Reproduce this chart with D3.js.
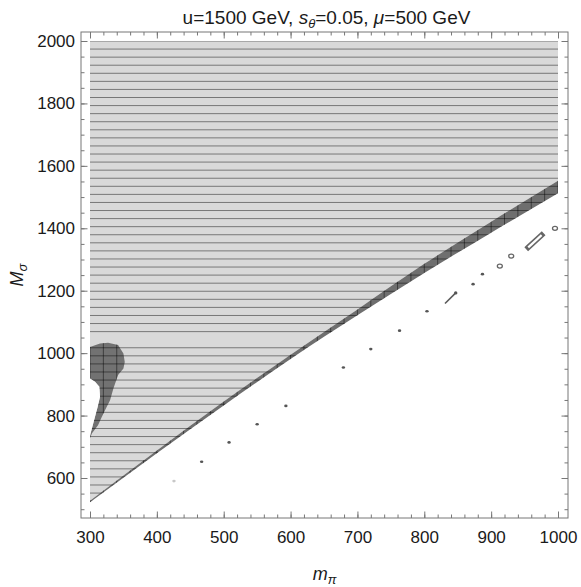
<!DOCTYPE html>
<html>
<head>
<meta charset="utf-8">
<script src="https://cdn.jsdelivr.net/npm/d3@7"></script>
<style>
  body { margin: 0; background: #fff; }
  svg { display: block; font-family: "Liberation Sans", Arial, sans-serif; }
</style>
</head>
<body>
<div id="chart"></div>
<script>
// boundary of the excluded region (upper edge of dark band / lower edge)
const bandM = [300, 400, 500, 600, 700, 800, 900, 1000];
const bandTop = [527, 688, 845, 995, 1140, 1286, 1421, 1552];
const bandBottom = [522, 679, 832, 981, 1121, 1257, 1386, 1512];

// dark blob near the left edge (outer edge, then the notch edge)
const blobM = [300, 315, 327, 342, 350, 352, 350, 342, 335, 330, 320, 312, 303, 300,
  301, 303.5, 307.5, 311.5, 315, 314, 307.5, 300];
const blobMs = [1020, 1031, 1033, 1026, 999, 972, 951, 930, 887, 849, 807, 769, 743, 727,
  743, 764, 796, 828, 860, 892, 908, 919];

// white notch left of the blob
const notchM = [300, 307.5, 314, 315, 311.5, 307.5, 303.5, 301, 300];
const notchMs = [919, 908, 892, 860, 828, 796, 764, 743, 735];

// small islands below the band
const islandM = [425.6, 467, 508, 550, 593, 679, 720, 763, 804, 831, 873, 887, 913, 930, 955.5, 995.5];
const islandMs = [590, 652, 714, 772, 831, 954, 1013, 1072, 1134, 1159, 1221, 1253, 1279, 1311, 1339, 1400];
const islandM2 = [425.6, 467, 508, 550, 593, 679, 720, 763, 804, 847, 873, 887, 913, 930, 975.5, 995.5];
const islandMs2 = [590, 652, 714, 772, 831, 954, 1013, 1072, 1134, 1193, 1221, 1253, 1279, 1311, 1378, 1400];
const islandKind = ["faint", "dot", "dot", "dot", "dot", "dot", "dot", "dot", "dot", "stick",
  "dot", "dot", "ring", "ring", "bar", "ring"];

const xTickValues = [300, 400, 500, 600, 700, 800, 900, 1000];
const yTickValues = [600, 800, 1000, 1200, 1400, 1600, 1800, 2000];

const width = 581;
const height = 587;
const frame = { left: 81, right: 568, top: 32, bottom: 518 };

const x = d3.scaleLinear().domain([300, 1000]).range([90, 558]);
const y = d3.scaleLinear().domain([600, 2000]).range([478, 41]);

const svg = d3.select("#chart").append("svg")
  .attr("width", width)
  .attr("height", height);

const defs = svg.append("defs");

const bandPts = bandM.map((m, i) => [m, bandTop[i]]);
const bandLowPts = bandM.map((m, i) => [m, bandBottom[i]]);

const curve = d3.line().x(d => x(d[0])).y(d => y(d[1])).curve(d3.curveMonotoneX);
const poly = d3.line().x(d => x(d[0])).y(d => y(d[1]));

function topEdge(pts) {
  return curve(pts) + `L${x(1000)},${y(2000)}L${x(300)},${y(2000)}Z`;
}

const upperPath = topEdge(bandLowPts);
const grayPath = topEdge(bandPts);
const bandPath = curve(bandPts) + "L" + curve(bandLowPts.slice().reverse()).slice(1) + "Z";
const blobPath = poly(blobM.map((m, i) => [m, blobMs[i]])) + "Z";
const notchPath = poly(notchM.map((m, i) => [m, notchMs[i]])) + "Z";

defs.append("clipPath").attr("id", "clip-upper")
  .append("path").attr("d", upperPath);
const darkClip = defs.append("clipPath").attr("id", "clip-dark");
darkClip.append("path").attr("d", bandPath);
darkClip.append("path").attr("d", blobPath);

// regions
svg.append("path").attr("d", grayPath).attr("fill", "#d9d9d9");
svg.append("path").attr("d", bandPath).attr("fill", "#6f6f6f");
svg.append("path").attr("d", blobPath).attr("fill", "#727272");

// mesh lines
const meshH = d3.range(0, 59).map(k => 2000 - k * 1500 / 58).filter((v, k) => k !== 37);
svg.append("g").attr("clip-path", "url(#clip-upper)")
  .selectAll("line").data(meshH).join("line")
  .attr("x1", x(300)).attr("x2", x(1000))
  .attr("y1", d => y(d)).attr("y2", d => y(d))
  .attr("stroke", "#000").attr("stroke-opacity", 0.45).attr("stroke-width", 1);

const meshV = d3.range(300, 1001, 20);
svg.append("g").attr("clip-path", "url(#clip-dark)")
  .selectAll("line").data(meshV).join("line")
  .attr("x1", d => x(d)).attr("x2", d => x(d))
  .attr("y1", y(2000)).attr("y2", y(500))
  .attr("stroke", "#000").attr("stroke-opacity", 0.45).attr("stroke-width", 1);

svg.append("path").attr("d", notchPath).attr("fill", "#fff");

// islands
const islands = islandM.map((m, i) => ({
  m, M: islandMs[i], m2: islandM2[i], M2: islandMs2[i], kind: islandKind[i]
}));
const ig = svg.append("g");
islands.forEach(d => {
  if (d.kind === "dot" || d.kind === "faint") {
    ig.append("ellipse")
      .attr("cx", x(d.m)).attr("cy", y(d.M))
      .attr("rx", 1.7).attr("ry", 1.3)
      .attr("fill", d.kind === "faint" ? "#c8c8c8" : "#555");
  } else if (d.kind === "stick") {
    ig.append("line")
      .attr("x1", x(d.m)).attr("y1", y(d.M)).attr("x2", x(d.m2)).attr("y2", y(d.M2))
      .attr("stroke", "#5a5a5a").attr("stroke-width", 1.6);
    ig.append("circle").attr("cx", x(d.m2)).attr("cy", y(d.M2)).attr("r", 1.7).attr("fill", "#555");
  } else if (d.kind === "ring") {
    ig.append("ellipse")
      .attr("cx", x(d.m)).attr("cy", y(d.M))
      .attr("rx", 2.5).attr("ry", 2)
      .attr("fill", "#fff").attr("stroke", "#666").attr("stroke-width", 1.3);
  } else if (d.kind === "bar") {
    ig.append("line")
      .attr("x1", x(d.m)).attr("y1", y(d.M)).attr("x2", x(d.m2)).attr("y2", y(d.M2))
      .attr("stroke", "#666").attr("stroke-width", 5.5).attr("stroke-linecap", "square");
    ig.append("line")
      .attr("x1", x(d.m)).attr("y1", y(d.M)).attr("x2", x(d.m2)).attr("y2", y(d.M2))
      .attr("stroke", "#fff").attr("stroke-width", 2.2);
  }
});

// frame with inward ticks
const axisColor = "#777";
const xMinor = d3.range(300, 1001, 20);
const yMinor = d3.range(500, 2001, 50);

function styleAxis(g) {
  g.select(".domain").remove();
  g.selectAll(".tick line").attr("stroke", axisColor);
  g.selectAll("text").attr("fill", "#1a1a1a").style("font-size", "17px")
    .style("font-family", '"Liberation Sans", Arial, sans-serif');
}

svg.append("g").attr("transform", `translate(0,${frame.bottom})`)
  .call(d3.axisBottom(x).tickValues(xMinor).tickSize(-3.5).tickFormat(""))
  .call(styleAxis);
svg.append("g").attr("transform", `translate(0,${frame.bottom})`)
  .call(d3.axisBottom(x).tickValues(xTickValues).tickSize(-6.5).tickPadding(13).tickFormat(d3.format("d")))
  .call(styleAxis);
svg.append("g").attr("transform", `translate(0,${frame.top})`)
  .call(d3.axisTop(x).tickValues(xMinor).tickSize(-3.5).tickFormat(""))
  .call(styleAxis);
svg.append("g").attr("transform", `translate(0,${frame.top})`)
  .call(d3.axisTop(x).tickValues(xTickValues).tickSize(-6.5).tickFormat(""))
  .call(styleAxis);

svg.append("g").attr("transform", `translate(${frame.left},0)`)
  .call(d3.axisLeft(y).tickValues(yMinor).tickSize(-3.5).tickFormat(""))
  .call(styleAxis);
svg.append("g").attr("transform", `translate(${frame.left},0)`)
  .call(d3.axisLeft(y).tickValues(yTickValues).tickSize(-6.5).tickPadding(6).tickFormat(d3.format("d")))
  .call(styleAxis);
svg.append("g").attr("transform", `translate(${frame.right},0)`)
  .call(d3.axisRight(y).tickValues(yMinor).tickSize(-3.5).tickFormat(""))
  .call(styleAxis);
svg.append("g").attr("transform", `translate(${frame.right},0)`)
  .call(d3.axisRight(y).tickValues(yTickValues).tickSize(-6.5).tickFormat(""))
  .call(styleAxis);

svg.append("rect")
  .attr("x", frame.left).attr("y", frame.top)
  .attr("width", frame.right - frame.left).attr("height", frame.bottom - frame.top)
  .attr("fill", "none").attr("stroke", axisColor).attr("stroke-width", 1);

// title
const title = svg.append("text")
  .attr("x", (frame.left + frame.right) / 2 + 2).attr("y", 24)
  .attr("text-anchor", "middle").attr("fill", "#1a1a1a")
  .style("font-size", "19px");
title.append("tspan").text("u=1500 GeV, ");
title.append("tspan").style("font-style", "italic").text("s");
title.append("tspan").style("font-style", "italic").style("font-size", "13px").attr("dy", 4).text("θ");
title.append("tspan").attr("dy", -4).text("=0.05, ");
title.append("tspan").style("font-style", "italic").text("μ");
title.append("tspan").text("=500 GeV");

// axis labels
const xl = svg.append("text")
  .attr("x", (frame.left + frame.right) / 2).attr("y", 580)
  .attr("text-anchor", "middle").attr("fill", "#1a1a1a")
  .style("font-size", "18px").style("font-style", "italic");
xl.append("tspan").text("m");
xl.append("tspan").style("font-size", "13px").attr("dy", 4).text("π");

const yl = svg.append("text")
  .attr("transform", `translate(23,${(frame.top + frame.bottom) / 2}) rotate(-90)`)
  .attr("text-anchor", "middle").attr("fill", "#1a1a1a")
  .style("font-size", "18px").style("font-style", "italic");
yl.append("tspan").text("M");
yl.append("tspan").style("font-size", "13px").attr("dy", 4).text("σ");
</script>
</body>
</html>
